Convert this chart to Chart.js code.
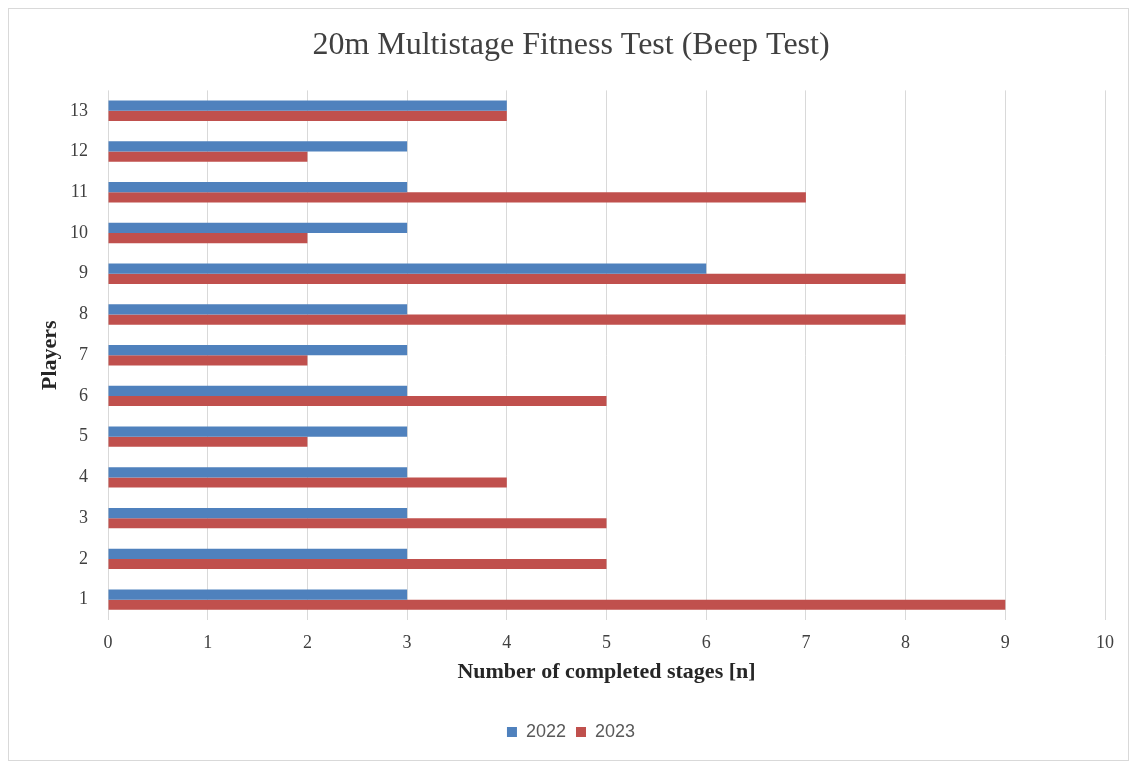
<!DOCTYPE html>
<html lang="en">
  <head>
    <meta charset="UTF-8" />
    <title>Beep Test</title>
    <script src="https://cdn.jsdelivr.net/npm/chart.js"></script>
    <style>
      body { margin: 0; background: #fff; }
      .frame {
        position: absolute; left: 8px; top: 8px;
        width: 1119px; height: 751px;
        border: 1px solid #d9d9d9;
      }
      .box { position: absolute; left: 0; top: 0; width: 1133px; height: 762px; }
    </style>
  </head>
  <body>
    <div class="frame"></div>
    <div class="box"><canvas id="myChart"></canvas></div>
  </body>
</html>
<script>
  var jogadores = ["1", "2", "3", "4", "5", "6", "7", "8", "9", "10", "11", "12", "13"];
  var ano2022 = [3, 3, 3, 3, 3, 3, 3, 3, 6, 3, 3, 3, 4];
  var ano2023 = [9, 5, 5, 4, 2, 5, 2, 8, 8, 2, 7, 2, 4];
  var ticksX = [0, 1, 2, 3, 4, 5, 6, 7, 8, 9, 10];

  var serif = "'Liberation Serif', 'Times New Roman', serif";
  var cinza = "#404040";

  const ctx = document.getElementById("myChart");
  new Chart(ctx, {
    type: "bar",
    data: {
      labels: jogadores,
      datasets: [
        {
          label: "2022",
          data: ano2022,
          backgroundColor: "#4f81bd",
          borderWidth: 0,
          categoryPercentage: 0.5,
          barPercentage: 1.0,
        },
        {
          label: "2023",
          data: ano2023,
          backgroundColor: "#c0504d",
          borderWidth: 0,
          categoryPercentage: 0.5,
          barPercentage: 1.0,
        },
      ],
    },
    options: {
      indexAxis: "y",
      responsive: true,
      maintainAspectRatio: false,
      animation: false,
      layout: { padding: { left: 37, right: 28, top: 16, bottom: 11 } },
      plugins: {
        tooltip: { enabled: false },
        title: {
          display: true,
          text: "20m Multistage Fitness Test (Beep Test)",
          color: cinza,
          font: { family: serif, size: 32, weight: "normal" },
          padding: { top: 10, bottom: 26 },
        },
        legend: {
          position: "bottom",
          labels: {
            color: "#595959",
            boxWidth: 10,
            boxHeight: 10,
            padding: 10,
            font: { family: "'Liberation Sans', Arial, sans-serif", size: 18 },
          },
        },
      },
      scales: {
        x: {
          min: 0,
          max: 10,
          afterBuildTicks: function (scale) {
            scale.ticks = ticksX.map((v) => ({ value: v }));
          },
          afterFit: function (scale) {
            scale.height = 93;
          },
          grid: { color: "#d9d9d9", drawTicks: false },
          border: { display: false },
          ticks: {
            color: cinza,
            padding: 12,
            font: { family: serif, size: 18 },
          },
          title: {
            display: true,
            text: "Number of completed stages [n]",
            color: "#262626",
            font: { family: serif, size: 22, weight: "bold" },
            padding: { top: 0, bottom: 27 },
          },
        },
        y: {
          reverse: true,
          afterFit: function (scale) {
            scale.width = 71;
          },
          grid: { display: false, drawTicks: false },
          border: { display: false },
          ticks: {
            color: cinza,
            padding: 20,
            font: { family: serif, size: 18 },
          },
          title: {
            display: true,
            text: "Players",
            color: "#262626",
            font: { family: serif, size: 22, weight: "bold" },
            padding: 0,
          },
        },
      },
    },
  });
</script>
